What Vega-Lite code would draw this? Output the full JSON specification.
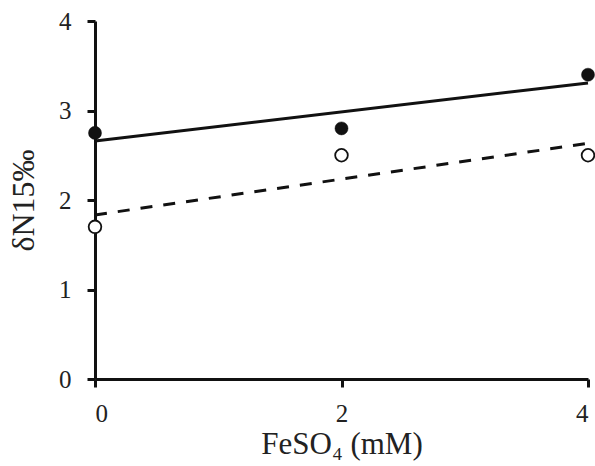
{
  "$schema": "https://vega.github.io/schema/vega-lite/v6.json",
  "width": 493,
  "height": 358,
  "autosize": {"type": "none"},
  "padding": {"left": 95, "top": 21, "right": 7, "bottom": 87},
  "background": "white",
  "config": {"view": {"stroke": null}},
  "data": {
    "values": [
      {"FeSO4": 0, "d15N": 2.75, "series": "filled"},
      {"FeSO4": 2, "d15N": 2.8, "series": "filled"},
      {"FeSO4": 4, "d15N": 3.4, "series": "filled"},
      {"FeSO4": 0, "d15N": 1.7, "series": "open"},
      {"FeSO4": 2, "d15N": 2.5, "series": "open"},
      {"FeSO4": 4, "d15N": 2.5, "series": "open"}
    ]
  },
  "encoding": {
    "x": {"field": "FeSO4", "type": "quantitative", "scale": {"domain": [0, 4], "nice": false},
      "axis": {"values": [0, 2, 4], "title": "FeSO₄ (mM)", "titlePadding": 3, "grid": false,
        "domainColor": "#111", "domainWidth": 3, "tickColor": "#111", "tickWidth": 3, "tickSize": 8,
        "labelFont": "Liberation Serif", "labelFontSize": 25, "labelColor": "#222", "labelPadding": 14,
        "titleFont": "Liberation Serif", "titleFontSize": 31, "titleFontWeight": "normal", "titleColor": "#222"}},
    "y": {"field": "d15N", "type": "quantitative", "scale": {"domain": [0, 4], "nice": false},
      "axis": {"values": [0, 1, 2, 3, 4], "title": "δN15‰", "titlePadding": 18, "grid": false,
        "domainColor": "#111", "domainWidth": 3, "tickColor": "#111", "tickWidth": 3, "tickSize": 8,
        "labelFont": "Liberation Serif", "labelFontSize": 25, "labelColor": "#222", "labelPadding": 16,
        "titleFont": "Liberation Serif", "titleFontSize": 32, "titleFontWeight": "normal", "titleColor": "#222"}}
  },
  "layer": [
    {
      "transform": [{"filter": "datum.series === 'filled'"}, {"regression": "d15N", "on": "FeSO4", "extent": [0, 4]}],
      "mark": {"type": "line", "color": "#111", "strokeWidth": 3}
    },
    {
      "transform": [{"filter": "datum.series === 'open'"}, {"regression": "d15N", "on": "FeSO4", "extent": [0, 4]}],
      "mark": {"type": "line", "color": "#111", "strokeWidth": 3, "strokeDash": [12, 11]}
    },
    {
      "transform": [{"filter": "datum.series === 'filled'"}],
      "mark": {"type": "point", "shape": "circle", "filled": true, "fill": "#111", "stroke": "#111", "strokeWidth": 0.5, "size": 170, "opacity": 1}
    },
    {
      "transform": [{"filter": "datum.series === 'open'"}],
      "mark": {"type": "point", "shape": "circle", "filled": true, "fill": "white", "stroke": "#111", "strokeWidth": 1.8, "size": 160, "opacity": 1}
    }
  ]
}
